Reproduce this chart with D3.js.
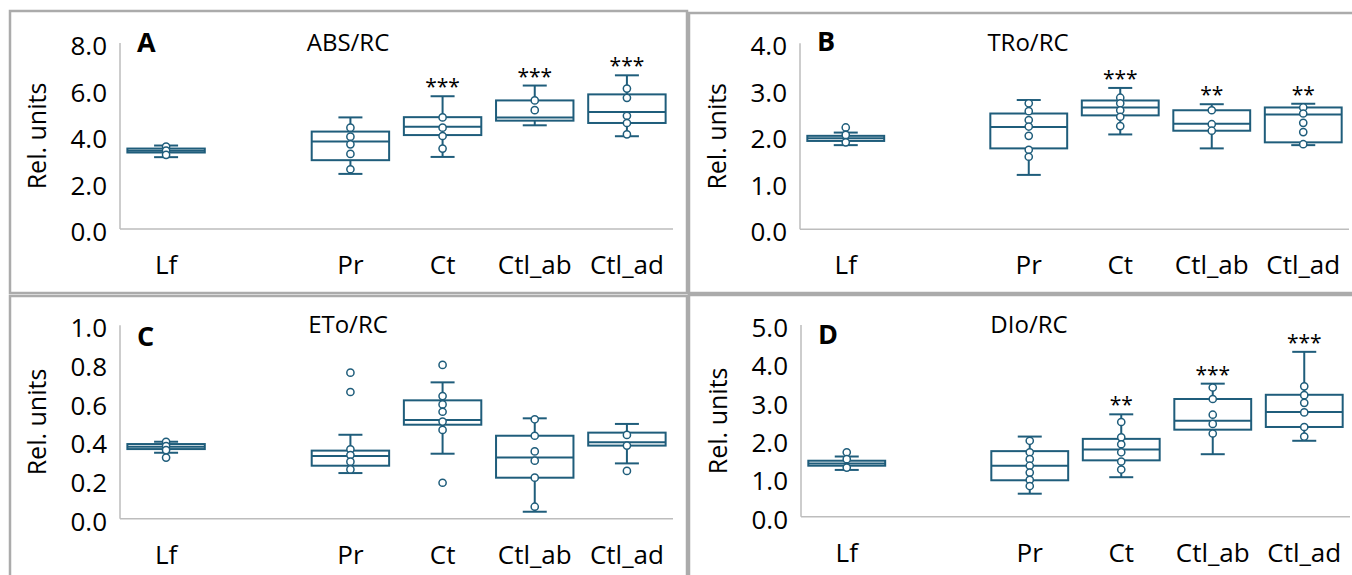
<!DOCTYPE html>
<html>
<head>
<meta charset="utf-8">
<script src="https://cdn.jsdelivr.net/npm/d3@7"></script>
<style>
  body { margin: 0; background: #fff; }
  svg { display: block; font-family: "Open Sans", "Noto Sans", sans-serif; }
</style>
</head>
<body>
<svg id="chart" width="1352" height="575"></svg>
<script>
'use strict';

// categories, with an empty slot between Lf and Pr
const categories = ['Lf', 'Pr', 'Ct', 'Ctl_ab', 'Ctl_ad'];
const slots = ['Lf', '_gap', 'Pr', 'Ct', 'Ctl_ab', 'Ctl_ad'];

// box stats per category: [lower whisker, q1, median, q3, upper whisker]
const absStats = [
  [3.09, 3.29, 3.37, 3.46, 3.59],
  [2.37, 2.96, 3.76, 4.19, 4.80],
  [3.10, 4.04, 4.40, 4.81, 5.71],
  [4.46, 4.66, 4.80, 5.53, 6.17],
  [3.99, 4.56, 5.03, 5.79, 6.61],
];
const absPoints = [
  [3.54, 3.37, 3.19],
  [4.36, 3.97, 3.64, 3.23, 2.57],
  [4.80, 4.36, 4.00, 3.46],
  [5.53, 5.11],
  [6.04, 5.64, 4.87, 4.56, 4.07],
];
const absStars = ['', '', '***', '***', '***'];

const troStats = [
  [1.81, 1.90, 1.96, 2.01, 2.08],
  [1.17, 1.74, 2.20, 2.49, 2.78],
  [2.04, 2.45, 2.62, 2.77, 3.04],
  [1.74, 2.12, 2.27, 2.56, 2.69],
  [1.81, 1.87, 2.47, 2.62, 2.70],
];
const troPoints = [
  [2.19, 2.03, 1.87],
  [2.71, 2.54, 2.35, 2.21, 2.01, 1.71, 1.56],
  [2.83, 2.71, 2.56, 2.42, 2.22],
  [2.56, 2.26, 2.12],
  [2.62, 2.49, 2.29, 2.09, 1.83],
];
const troStars = ['', '', '***', '**', '**'];

const etoStats = [
  [0.341, 0.360, 0.372, 0.386, 0.398],
  [0.236, 0.274, 0.324, 0.352, 0.434],
  [0.336, 0.486, 0.510, 0.612, 0.705],
  [0.036, 0.212, 0.317, 0.429, 0.519],
  [0.286, 0.378, 0.395, 0.445, 0.490],
];
const etoPoints = [
  [0.398, 0.376, 0.355, 0.316],
  [0.755, 0.655, 0.359, 0.329, 0.295, 0.255],
  [0.795, 0.634, 0.591, 0.553, 0.502, 0.459, 0.186],
  [0.514, 0.429, 0.348, 0.300, 0.212, 0.062],
  [0.433, 0.378, 0.247],
];
const etoStars = ['', '', '', '', ''];

const dioStats = [
  [1.22, 1.33, 1.39, 1.46, 1.57],
  [0.60, 0.95, 1.33, 1.71, 2.09],
  [1.03, 1.47, 1.75, 2.03, 2.67],
  [1.63, 2.27, 2.50, 3.07, 3.47],
  [1.98, 2.34, 2.73, 3.18, 4.30],
];
const dioPoints = [
  [1.68, 1.50, 1.28],
  [1.98, 1.68, 1.50, 1.33, 1.15, 0.96, 0.80],
  [2.47, 2.07, 1.89, 1.68, 1.44, 1.23],
  [3.37, 3.07, 2.66, 2.42, 2.17],
  [3.40, 3.17, 2.97, 2.72, 2.34, 2.09],
];
const dioStars = ['', '', '**', '***', '***'];

const absTicks = [0, 2, 4, 6, 8];
const troTicks = [0, 1, 2, 3, 4];
const etoTicks = [0, 0.2, 0.4, 0.6, 0.8, 1.0];
const dioTicks = [0, 1, 2, 3, 4, 5];

const boxColor = '#1f5d7b';
const axisColor = '#bdbdbd';
const frameColor = '#ababab';

const panels = [
  { letter: 'A', title: 'ABS/RC', stats: absStats, points: absPoints, stars: absStars, ticks: absTicks,
    frame: [10, 11, 677, 282], axisX: 120, axisR: 673, top: 43, base: 229, letterY: 52 },
  { letter: 'B', title: 'TRo/RC', stats: troStats, points: troPoints, stars: troStars, ticks: troTicks,
    frame: [689, 13, 700, 280], axisX: 800, axisR: 1349, top: 43.3, base: 229.3, letterY: 51 },
  { letter: 'C', title: 'ETo/RC', stats: etoStats, points: etoPoints, stars: etoStars, ticks: etoTicks,
    frame: [10, 296, 677, 300], axisX: 120, axisR: 673, top: 325.3, base: 518.7, letterY: 346 },
  { letter: 'D', title: 'DIo/RC', stats: dioStats, points: dioPoints, stars: dioStars, ticks: dioTicks,
    frame: [689, 295, 700, 300], axisX: 801, axisR: 1350, top: 325, base: 516.7, letterY: 344 },
];

const svg = d3.select('#chart');

const drawPanel = (p) => {
  const g = svg.append('g');
  const [fx, fy, fw, fh] = p.frame;

  g.append('rect')
    .attr('x', fx).attr('y', fy).attr('width', fw).attr('height', fh)
    .attr('fill', 'none').attr('stroke', frameColor).attr('stroke-width', 2.5);

  const x = d3.scaleBand().domain(slots).range([p.axisX, p.axisR]);
  const y = d3.scaleLinear()
    .domain([0, d3.max(p.ticks)])
    .range([p.base, p.top]);
  const bw = x.bandwidth() * 0.84;
  const capW = 24;

  // axes: plain lines, no tick marks
  g.append('line')
    .attr('x1', p.axisX).attr('x2', p.axisX)
    .attr('y1', y.range()[1]).attr('y2', p.base)
    .attr('stroke', axisColor).attr('stroke-width', 1.5);
  g.append('line')
    .attr('x1', p.axisX).attr('x2', p.axisR)
    .attr('y1', p.base).attr('y2', p.base)
    .attr('stroke', axisColor).attr('stroke-width', 1.5);

  g.selectAll('.ytick')
    .data(p.ticks)
    .enter()
    .append('text')
    .attr('x', p.axisX - 13)
    .attr('y', (d) => y(d) + 3)
    .attr('dy', '0.35em')
    .attr('text-anchor', 'end')
    .attr('font-size', 26)
    .attr('fill', '#000')
    .text(d3.format('.1f'));

  g.selectAll('.xlab')
    .data(categories)
    .enter()
    .append('text')
    .attr('x', (d) => x(d) + x.bandwidth() / 2)
    .attr('y', p.base + 36)
    .attr('dy', '0.35em')
    .attr('text-anchor', 'middle')
    .attr('font-size', 26)
    .text((d) => d);

  g.append('text')
    .attr('transform', `translate(${p.axisX - 83},${(p.top + p.base) / 2}) rotate(-90)`)
    .attr('dy', '0.35em')
    .attr('text-anchor', 'middle')
    .attr('font-size', 25)
    .text('Rel. units');

  g.append('text')
    .attr('x', p.axisX + 17)
    .attr('y', p.letterY)
    .attr('font-size', 27)
    .attr('font-weight', 'bold')
    .text(p.letter);

  g.append('text')
    .attr('x', p.axisX + 228)
    .attr('y', p.top + 8)
    .attr('text-anchor', 'middle')
    .attr('font-size', 24)
    .text(p.title);

  const boxes = g.selectAll('.box')
    .data(categories.map((c, i) => ({ c, s: p.stats[i], pts: p.points[i], star: p.stars[i] })))
    .enter()
    .append('g')
    .attr('transform', (d) => `translate(${x(d.c) + x.bandwidth() / 2},0)`);

  const stroke = (sel) => sel.attr('stroke', boxColor).attr('stroke-width', 2).attr('fill', 'none');

  boxes.append('line').call(stroke)
    .attr('x1', 0).attr('x2', 0)
    .attr('y1', (d) => y(d.s[4])).attr('y2', (d) => y(d.s[3]));
  boxes.append('line').call(stroke)
    .attr('x1', 0).attr('x2', 0)
    .attr('y1', (d) => y(d.s[1])).attr('y2', (d) => y(d.s[0]));
  boxes.append('line').call(stroke)
    .attr('x1', -capW / 2).attr('x2', capW / 2)
    .attr('y1', (d) => y(d.s[4])).attr('y2', (d) => y(d.s[4]));
  boxes.append('line').call(stroke)
    .attr('x1', -capW / 2).attr('x2', capW / 2)
    .attr('y1', (d) => y(d.s[0])).attr('y2', (d) => y(d.s[0]));
  boxes.append('rect').call(stroke)
    .attr('x', -bw / 2).attr('width', bw)
    .attr('y', (d) => y(d.s[3]))
    .attr('height', (d) => y(d.s[1]) - y(d.s[3]));
  boxes.append('line').call(stroke)
    .attr('x1', -bw / 2).attr('x2', bw / 2)
    .attr('y1', (d) => y(d.s[2])).attr('y2', (d) => y(d.s[2]));

  boxes.selectAll('circle')
    .data((d) => d.pts)
    .enter()
    .append('circle')
    .attr('cx', 0)
    .attr('cy', (v) => y(v))
    .attr('r', 3.6)
    .attr('fill', '#fff')
    .attr('stroke', boxColor)
    .attr('stroke-width', 1.5);

  boxes.append('text')
    .attr('x', 0)
    .attr('y', (d) => y(d.s[4]) - 2)
    .attr('text-anchor', 'middle')
    .attr('font-size', 21)
    .attr('fill', '#000')
    .text((d) => d.star);
};

panels.forEach(drawPanel);
</script>
</body>
</html>
